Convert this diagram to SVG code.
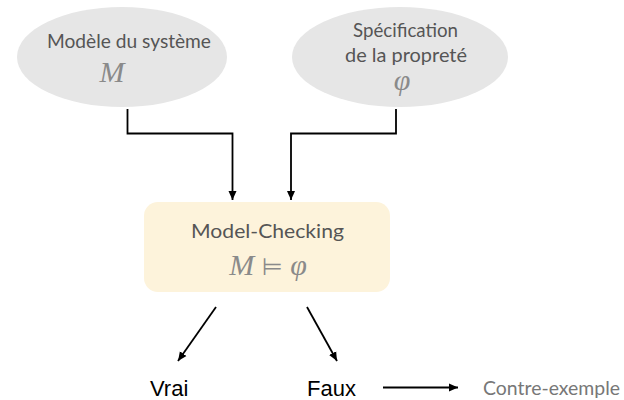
<svg xmlns="http://www.w3.org/2000/svg" width="624" height="400" viewBox="0 0 624 400">
<defs>
<marker id="ah" markerWidth="10" markerHeight="10" refX="9" refY="5" orient="auto" markerUnits="userSpaceOnUse">
<path d="M0,1 L9,5 L0,9 Z" fill="#000"/>
</marker>
<style>
.ell{fill:#e6e6e6}
.lbl{font-family:Lato,"Open Sans","Liberation Sans",sans-serif;font-size:19px;fill:#555;text-anchor:middle}
.math{font-family:"Liberation Serif","DejaVu Serif",serif;font-style:italic;font-size:30px;fill:#8a8a8a;text-anchor:middle}
.res{font-family:"Liberation Sans",Arial,sans-serif;font-size:22px;fill:#000}
.conn{fill:none;stroke:#000;stroke-width:1.8}
</style>
</defs>
<rect width="624" height="400" fill="#fff"/>
<g id="modele">
<ellipse class="ell" cx="122" cy="57" rx="105" ry="50"/>
<text class="lbl" x="129" y="48" textLength="164" lengthAdjust="spacingAndGlyphs">Modèle du système</text>
<text class="math" x="112" y="82">M</text>
</g>
<g id="specification">
<ellipse class="ell" cx="400" cy="57" rx="108" ry="50"/>
<text class="lbl" x="405.5" y="37" textLength="105" lengthAdjust="spacingAndGlyphs">Spécification</text>
<text class="lbl" x="406" y="62" textLength="122" lengthAdjust="spacingAndGlyphs">de la propreté</text>
<text class="math" x="402" y="90">φ</text>
</g>
<g id="model-checking">
<rect x="144" y="202" width="246" height="90" rx="14" fill="#fdf3db"/>
<text class="lbl" x="267.5" y="238" textLength="153" lengthAdjust="spacingAndGlyphs">Model-Checking</text>
<text class="math" x="268" y="275">M <tspan font-style="normal" font-family="DejaVu Sans,sans-serif" font-size="24">⊨</tspan> φ</text>
</g>
<g id="vrai"><text class="res" x="150" y="396">Vrai</text></g>
<g id="faux"><text class="res" x="307" y="396">Faux</text></g>
<g id="contre-exemple"><text class="lbl" x="551.5" y="395" style="fill:#777" textLength="137" lengthAdjust="spacingAndGlyphs">Contre-exemple</text></g>
<g id="connectors">
<path class="conn" d="M127.5,109 V133.5 H232.5 V200" marker-end="url(#ah)"/>
<path class="conn" d="M396,109 V133.5 H291 V200" marker-end="url(#ah)"/>
<path class="conn" d="M216,307 L178,361" marker-end="url(#ah)"/>
<path class="conn" d="M307,307 L337,361" marker-end="url(#ah)"/>
<path class="conn" d="M383,387.5 H458" marker-end="url(#ah)"/>
</g>
</svg>
